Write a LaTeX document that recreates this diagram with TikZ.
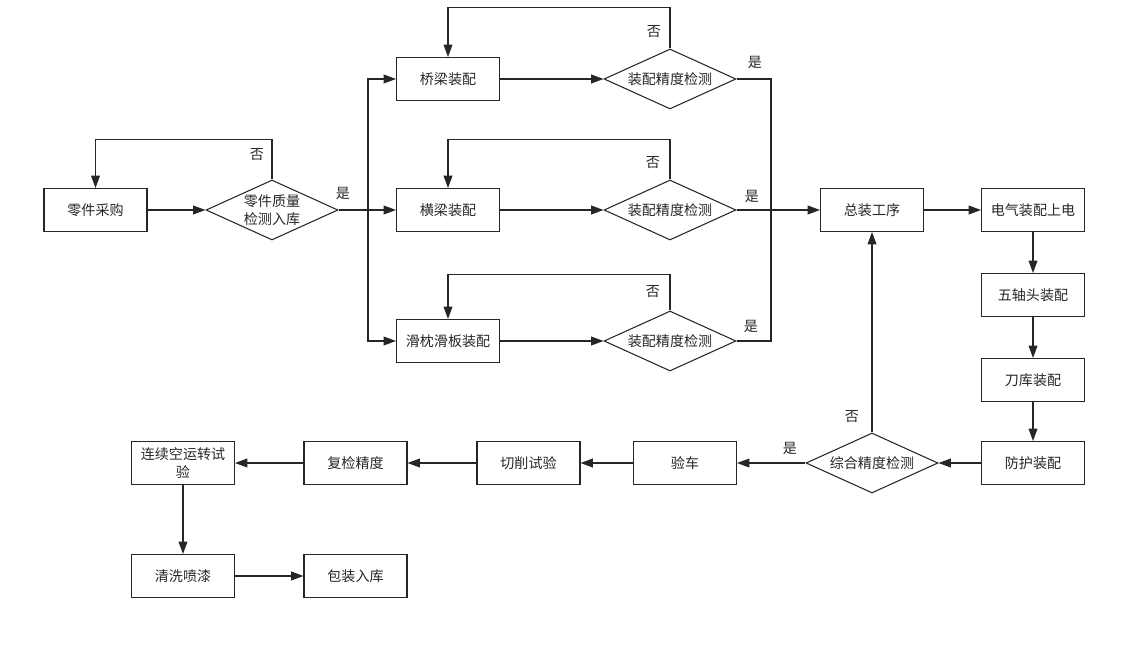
\documentclass[tikz,border=0pt]{standalone}
\usepackage{fontspec}
\newfontfamily\cjk{Noto Sans CJK SC}
\usetikzlibrary{shapes.geometric,arrows.meta}

\begin{document}
\begin{tikzpicture}[x=0.02cm,y=-0.02cm,
    every node/.style={font=\cjk\fontsize{8}{10}\selectfont, text=black!85},
    box/.style={draw=black!85, line width=0.6pt, minimum width=2.06cm, minimum height=0.86cm, inner sep=1pt, align=center},
    check/.style={draw=black!85, diamond, shape aspect=2.2, line width=0.6pt, minimum width=2.64cm, minimum height=1.2cm, inner sep=0pt, align=center},
    arr/.style={-{Triangle[length=7pt,width=5pt]}, draw=black!85, line width=0.6pt},
    ln/.style={draw=black!85, line width=0.6pt},
    lbl/.style={inner sep=0pt}]
    \useasboundingbox (0,0) rectangle (1121,648);

    % top row
    \node[box] (qlzp) at (448,79) {桥梁装配};
    \node[check] (jc1) at (670,79) {装配精度检测};

    % second row
    \node[box] (ljcg) at (95.5,210) {零件采购};
    \node[check] (zljc) at (272,210) {零件质量\\检测入库};
    \node[box] (hlzp) at (448,210) {横梁装配};
    \node[check] (jc2) at (670,210) {装配精度检测};
    \node[box] (zzgx) at (872,210) {总装工序};
    \node[box] (dqzp) at (1033,210) {电气装配上电};

    % third row
    \node[box] (hzzp) at (448,341) {滑枕滑板装配};
    \node[check] (jc3) at (670,341) {装配精度检测};

    % right column
    \node[box] (wtzp) at (1033,295) {五轴头装配};
    \node[box] (dkzp) at (1033,380) {刀库装配};
    \node[box] (fhzp) at (1033,463) {防护装配};

    % return row
    \node[check] (zhjc) at (872,463) {综合精度检测};
    \node[box] (yc) at (685,463) {验车};
    \node[box] (qxsy) at (528.5,463) {切削试验};
    \node[box] (fjjd) at (355.5,463) {复检精度};
    \node[box] (lxsy) at (183,463) {连续空运转试\\验};
    \node[box] (qxpq) at (183,576) {清洗喷漆};
    \node[box] (bzrk) at (355.5,576) {包装入库};

    % parts check
    \draw[arr] (ljcg) -- (zljc);
    \draw[arr] (zljc.north) -- ++(0,-40) -| (ljcg.north);
    \node[lbl] (no0) at (257,155) {否};
    \draw[arr] (zljc) -- (hlzp);
    \node[lbl] (yes0) at (343,193) {是};
    \coordinate (fork) at (368,210);
    \draw[arr] (fork) |- (qlzp.west);
    \draw[arr] (fork) |- (hzzp.west);

    % sub assemblies
    \draw[arr] (qlzp) -- (jc1);
    \draw[arr] (hlzp) -- (jc2);
    \draw[arr] (hzzp) -- (jc3);
    \draw[arr] (jc1.north) -- ++(0,-41) -| (qlzp.north);
    \draw[arr] (jc2.north) -- ++(0,-40) -| (hlzp.north);
    \draw[arr] (jc3.north) -- ++(0,-36) -| (hzzp.north);
    \node[lbl] (no1) at (654,32) {否};
    \node[lbl] (no2) at (653,163) {否};
    \node[lbl] (no3) at (653,292) {否};
    \node[lbl] (yes1) at (755,62) {是};
    \node[lbl] (yes2) at (752,196) {是};
    \node[lbl] (yes3) at (751,326) {是};
    \coordinate (join) at (771,210);
    \draw[ln] (jc1.east) -| (join);
    \draw[ln] (jc3.east) -| (join);
    \draw[arr] (jc2) -- (zzgx);

    % final assembly
    \draw[arr] (zzgx) -- (dqzp);
    \draw[arr] (dqzp) -- (wtzp);
    \draw[arr] (wtzp) -- (dkzp);
    \draw[arr] (dkzp) -- (fhzp);
    \draw[arr] (fhzp) -- (zhjc);
    \draw[arr] (zhjc) -- (zzgx);
    \node[lbl] (no4) at (852,417) {否};
    \draw[arr] (zhjc) -- (yc);
    \node[lbl] (yes4) at (790,448) {是};
    \draw[arr] (yc) -- (qxsy);
    \draw[arr] (qxsy) -- (fjjd);
    \draw[arr] (fjjd) -- (lxsy);
    \draw[arr] (lxsy) -- (qxpq);
    \draw[arr] (qxpq) -- (bzrk);
\end{tikzpicture}
\end{document}
